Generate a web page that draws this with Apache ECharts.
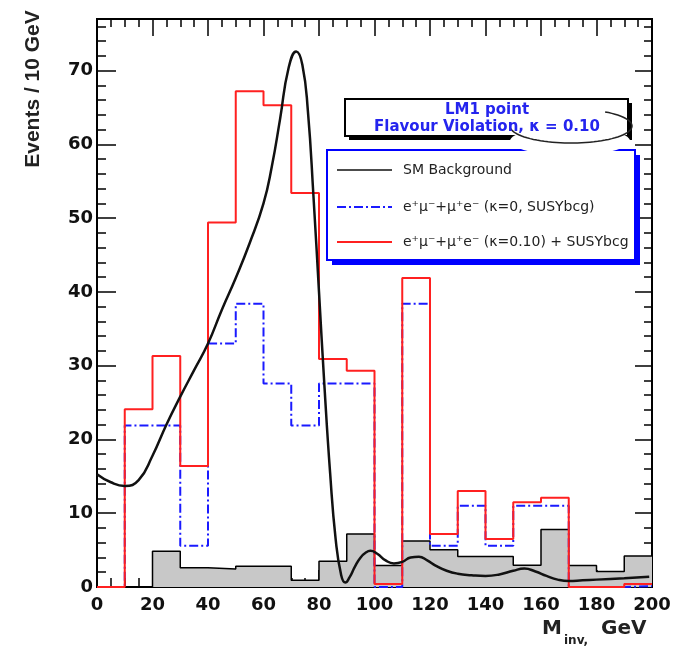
<!DOCTYPE html>
<html><head><meta charset="utf-8">
<script src="https://cdn.jsdelivr.net/npm/echarts@6/dist/echarts.min.js"></script>
<style>html,body{margin:0;padding:0;background:#fff}#c{width:684px;height:649px}</style>
</head><body><div id="c"></div>
<script>
// ---- data ----
const binLowEdges = [0,10,20,30,40,50,60,70,80,90,100,110,120,130,140,150,160,170,180,190];
const binUpperEdge = 200;
const smBackgroundHist = [0,0,4.85,2.6,2.45,2.8,2.8,0.9,3.5,7.2,2.9,6.25,5.05,4.15,4.15,2.95,7.8,2.9,2.1,4.2];
const emuKappa0Susy = [0,21.9,21.9,5.6,33.0,38.4,27.6,21.9,27.6,27.6,0,38.4,5.6,11.0,5.6,11.0,11.0,0,0,0.1];
const emuKappa010Susy = [0,24.1,31.3,16.4,49.4,67.2,65.3,53.4,30.9,29.3,0.4,41.9,7.2,13.0,6.5,11.5,12.1,0,0,0.4];
const smFitX = [0,5,10,15,20,25,30,35,40,45,50,55,60,63,66,69,71.8,74,76,78,80,82,84,86,88,89.5,91,93,95,97,98.5,101,104,107,110,113,116,119,122,126,130,135,140,145,150,154,158,162,166,170,175,180,190,199];
const smFitY = [15.3,14.2,13.7,14.5,17.8,22.0,25.8,29.4,33.0,37.6,41.9,46.6,52.0,57.0,63.5,70.3,72.6,70.8,64.5,53.0,40.0,27.0,15.5,6.5,1.6,0.6,1.3,2.8,4.0,4.7,4.9,4.5,3.6,3.2,3.4,4.0,4.1,3.6,2.9,2.2,1.8,1.6,1.5,1.7,2.2,2.5,2.1,1.5,1.0,0.8,0.9,1.0,1.2,1.4];
const xTickValues = [0,20,40,60,80,100,120,140,160,180,200];
const yTickValues = [0,10,20,30,40,50,60,70];
const legendLabels = ['SM Background','e\u207A\u03BC\u207B+\u03BC\u207Ae\u207B (\u03BA=0, SUSYbcg)','e\u207A\u03BC\u207B+\u03BC\u207Ae\u207B (\u03BA=0.10) + SUSYbcg'];
const titleLines = ['LM1 point','Flavour Violation, \u03BA = 0.10'];
const yTitle = 'Events / 10 GeV';

// ---- build ----
function stepData(vals){
  const d = binLowEdges.map((x,i)=>[x, vals[i]]);
  d.push([binUpperEdge, vals[vals.length-1]]);
  return d;
}
const yMax = 77;
const tickFont = {color:'#111', fontFamily:'DejaVu Sans', fontWeight:'bold', fontSize:18};
function xAx(pos, interval, len, labels){
  return {type:'value', position:pos, min:0, max:200, interval:interval,
    axisLine:{show:false,onZero:false}, splitLine:{show:false},
    axisTick:{show:true, inside:true, length:len, lineStyle:{color:'#000', width:1.5}},
    axisLabel:Object.assign({show:labels, margin:9,
      formatter:v=> xTickValues.indexOf(v)>=0 ? String(v) : ''}, tickFont)};
}
function yAx(pos, interval, len, labels){
  return {type:'value', position:pos, min:0, max:yMax, interval:interval,
    axisLine:{show:false,onZero:false}, splitLine:{show:false},
    axisTick:{show:true, inside:true, length:len, lineStyle:{color:'#000', width:1.5}},
    axisLabel:Object.assign({show:labels, margin:4, showMaxLabel:false,
      formatter:v=> yTickValues.indexOf(v)>=0 ? String(v) : ''}, tickFont)};
}
// outline of the white blob artifact (decoration only)
const blobOutline = [];
for (let a = 172; a >= -58; a -= 4) {
  const r = a*Math.PI/180;
  blobOutline.push([571 + 61*Math.cos(r), 126 + 17*Math.sin(r)]);
}

const option = {
  animation:false,
  backgroundColor:'#fff',
  grid:{left:97, right:32, top:19, bottom:62, show:true, borderColor:'#000', borderWidth:2, backgroundColor:'#fff'},
  xAxis:[xAx('bottom',20,17,true), xAx('bottom',5,9,false), xAx('top',20,17,false), xAx('top',5,8,false)],
  yAxis:[yAx('left',10,19,true), yAx('left',2,9,false), yAx('right',10,17,false), yAx('right',2,8,false)],
  series:[
    {name:'SM hist', type:'line', step:'end', data:stepData(smBackgroundHist), symbol:'none',
     lineStyle:{color:'#000', width:1.5}, areaStyle:{color:'#c8c8c8', opacity:1}, z:2},
    {name:legendLabels[1], type:'line', step:'end', data:stepData(emuKappa0Susy), symbol:'none',
     lineStyle:{color:'#1a1aff', width:2, type:[9,3,2,3]}, z:3},
    {name:legendLabels[2], type:'line', step:'end', data:stepData(emuKappa010Susy), symbol:'none',
     lineStyle:{color:'#ff2020', width:2}, z:4},
    {name:legendLabels[0], type:'line', smooth:0.5, data:smFitX.map((x,i)=>[x, smFitY[i]]), symbol:'none',
     lineStyle:{color:'#111', width:2.5}, z:5}
  ],
  graphic:[
    {type:'text', x:33, y:89, rotation:Math.PI/2, z:100,
     style:{text:yTitle, font:'bold 21px "Liberation Sans"', fill:'#222', textAlign:'center', textVerticalAlign:'middle'}},
    {type:'text', x:542, y:639, z:100, style:{text:'M', font:'bold 20px "DejaVu Sans"', fill:'#222', textAlign:'left', textVerticalAlign:'bottom'}},
    {type:'text', x:564, y:647, z:100, style:{text:'inv,', font:'bold 12px "DejaVu Sans"', fill:'#222', textAlign:'left', textVerticalAlign:'bottom'}},
    {type:'text', x:601, y:639, z:100, style:{text:'GeV', font:'bold 20px "DejaVu Sans"', fill:'#222', textAlign:'left', textVerticalAlign:'bottom'}},
    {type:'rect', z:100, shape:{x:349,y:103,width:283,height:37}, style:{fill:'#000'}},
    {type:'rect', z:101, shape:{x:345,y:99,width:283,height:37}, style:{fill:'#fff', stroke:'#000', lineWidth:2}},
    {type:'rect', z:100, shape:{x:332,y:155,width:308,height:110}, style:{fill:'#0000ff'}},
    {type:'rect', z:101, shape:{x:327,y:150,width:308,height:110}, style:{fill:'#fff', stroke:'#0000ff', lineWidth:2}},
    {type:'line', z:102, shape:{x1:337,y1:170,x2:392,y2:170}, style:{stroke:'#111', lineWidth:1.5}},
    {type:'line', z:102, shape:{x1:337,y1:207,x2:392,y2:207}, style:{stroke:'#1a1aff', lineWidth:2, lineDash:[9,3,2,3]}},
    {type:'line', z:102, shape:{x1:337,y1:242,x2:392,y2:242}, style:{stroke:'#ff2020', lineWidth:2}},
    {type:'text', z:102, x:403, y:170, style:{text:legendLabels[0], font:'14px "DejaVu Sans"', fill:'#222', textVerticalAlign:'middle'}},
    {type:'text', z:102, x:403, y:207, style:{text:legendLabels[1], font:'14px "DejaVu Sans"', fill:'#222', textVerticalAlign:'middle'}},
    {type:'text', z:102, x:403, y:242, style:{text:legendLabels[2], font:'14px "DejaVu Sans"', fill:'#222', textVerticalAlign:'middle'}},
    {type:'ellipse', z:105, shape:{cx:570, cy:141, rx:60, ry:14}, style:{fill:'#fff'}},
    {type:'polyline', z:106, shape:{points:blobOutline}, style:{stroke:'#222', lineWidth:1.5, fill:null}},
    {type:'text', z:112, x:487, y:110, style:{text:titleLines[0], font:'bold 15px "DejaVu Sans"', fill:'#2424ee', textAlign:'center', textVerticalAlign:'middle'}},
    {type:'text', z:112, x:487, y:127, style:{text:titleLines[1], font:'bold 15px "DejaVu Sans"', fill:'#2424ee', textAlign:'center', textVerticalAlign:'middle'}}
  ]
};
const chart = echarts.init(document.getElementById('c'));
chart.setOption(option);
</script>
</body></html>
